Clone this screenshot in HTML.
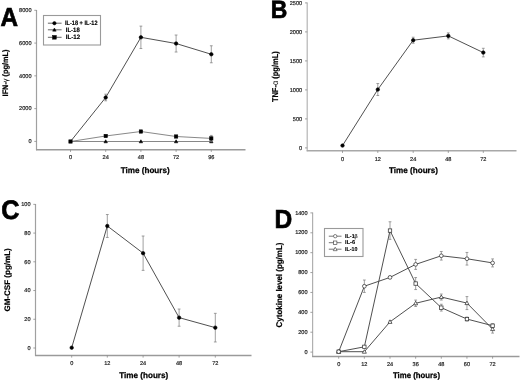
<!DOCTYPE html><html><head><meta charset="utf-8"><style>html,body{margin:0;padding:0;background:#fff;width:520px;height:381px;overflow:hidden}svg{display:block;will-change:transform;filter:blur(0.3px)}</style></head><body>
<svg width="520" height="381" viewBox="0 0 520 381" text-rendering="geometricPrecision" font-family='"Liberation Sans", sans-serif'>
<rect width="520" height="381" fill="#fff"/>
<text transform="translate(0.55,26.05) scale(0.927,1)" x="0" y="0" font-size="26.2" font-weight="bold" fill="#000" stroke="#000" stroke-width="0.7">A</text>
<line x1="36.50" y1="10.00" x2="36.50" y2="150.20" stroke="#a0a0a0" stroke-width="1.2"/>
<line x1="36.00" y1="149.70" x2="245.50" y2="149.70" stroke="#9a9a9a" stroke-width="1.5"/>
<line x1="34.30" y1="141.40" x2="36.50" y2="141.40" stroke="#8a8a8a" stroke-width="0.8"/>
<text x="31.50" y="143.10" font-size="5.6" font-weight="normal" text-anchor="end" fill="#222" stroke="#222" stroke-width="0.18">0</text>
<line x1="34.30" y1="108.62" x2="36.50" y2="108.62" stroke="#8a8a8a" stroke-width="0.8"/>
<text x="31.50" y="110.33" font-size="5.6" font-weight="normal" text-anchor="end" fill="#222" stroke="#222" stroke-width="0.18">2000</text>
<line x1="34.30" y1="75.85" x2="36.50" y2="75.85" stroke="#8a8a8a" stroke-width="0.8"/>
<text x="31.50" y="77.55" font-size="5.6" font-weight="normal" text-anchor="end" fill="#222" stroke="#222" stroke-width="0.18">4000</text>
<line x1="34.30" y1="43.08" x2="36.50" y2="43.08" stroke="#8a8a8a" stroke-width="0.8"/>
<text x="31.50" y="44.78" font-size="5.6" font-weight="normal" text-anchor="end" fill="#222" stroke="#222" stroke-width="0.18">6000</text>
<line x1="34.30" y1="10.30" x2="36.50" y2="10.30" stroke="#8a8a8a" stroke-width="0.8"/>
<text x="31.50" y="12.00" font-size="5.6" font-weight="normal" text-anchor="end" fill="#222" stroke="#222" stroke-width="0.18">8000</text>
<line x1="70.50" y1="149.70" x2="70.50" y2="151.90" stroke="#8a8a8a" stroke-width="0.8"/>
<text x="70.50" y="159.10" font-size="5.6" font-weight="normal" text-anchor="middle" fill="#222" stroke="#222" stroke-width="0.18">0</text>
<line x1="105.70" y1="149.70" x2="105.70" y2="151.90" stroke="#8a8a8a" stroke-width="0.8"/>
<text x="105.70" y="159.10" font-size="5.6" font-weight="normal" text-anchor="middle" fill="#222" stroke="#222" stroke-width="0.18">24</text>
<line x1="140.90" y1="149.70" x2="140.90" y2="151.90" stroke="#8a8a8a" stroke-width="0.8"/>
<text x="140.90" y="159.10" font-size="5.6" font-weight="normal" text-anchor="middle" fill="#222" stroke="#222" stroke-width="0.18">48</text>
<line x1="176.10" y1="149.70" x2="176.10" y2="151.90" stroke="#8a8a8a" stroke-width="0.8"/>
<text x="176.10" y="159.10" font-size="5.6" font-weight="normal" text-anchor="middle" fill="#222" stroke="#222" stroke-width="0.18">72</text>
<line x1="211.30" y1="149.70" x2="211.30" y2="151.90" stroke="#8a8a8a" stroke-width="0.8"/>
<text x="211.30" y="159.10" font-size="5.6" font-weight="normal" text-anchor="middle" fill="#222" stroke="#222" stroke-width="0.18">96</text>
<line x1="105.70" y1="94.20" x2="105.70" y2="100.80" stroke="#808080" stroke-width="0.75"/>
<line x1="104.30" y1="94.20" x2="107.10" y2="94.20" stroke="#808080" stroke-width="0.75"/>
<line x1="104.30" y1="100.80" x2="107.10" y2="100.80" stroke="#808080" stroke-width="0.75"/>
<line x1="140.90" y1="26.12" x2="140.90" y2="48.52" stroke="#808080" stroke-width="0.75"/>
<line x1="139.50" y1="26.12" x2="142.30" y2="26.12" stroke="#808080" stroke-width="0.75"/>
<line x1="139.50" y1="48.52" x2="142.30" y2="48.52" stroke="#808080" stroke-width="0.75"/>
<line x1="176.10" y1="35.02" x2="176.10" y2="52.02" stroke="#808080" stroke-width="0.75"/>
<line x1="174.70" y1="35.02" x2="177.50" y2="35.02" stroke="#808080" stroke-width="0.75"/>
<line x1="174.70" y1="52.02" x2="177.50" y2="52.02" stroke="#808080" stroke-width="0.75"/>
<line x1="211.30" y1="45.77" x2="211.30" y2="62.77" stroke="#808080" stroke-width="0.75"/>
<line x1="209.90" y1="45.77" x2="212.70" y2="45.77" stroke="#808080" stroke-width="0.75"/>
<line x1="209.90" y1="62.77" x2="212.70" y2="62.77" stroke="#808080" stroke-width="0.75"/>
<polyline points="70.50,141.50 105.70,97.50 140.90,37.32 176.10,43.52 211.30,54.27" fill="none" stroke="#474747" stroke-width="0.95"/>
<circle cx="105.70" cy="97.50" r="1.75" fill="#000" stroke="#000" stroke-width="0.6"/>
<circle cx="140.90" cy="37.32" r="1.75" fill="#000" stroke="#000" stroke-width="0.6"/>
<circle cx="176.10" cy="43.52" r="1.75" fill="#000" stroke="#000" stroke-width="0.6"/>
<circle cx="211.30" cy="54.27" r="1.75" fill="#000" stroke="#000" stroke-width="0.6"/>
<polyline points="70.50,141.50 105.70,141.50 140.90,141.50 176.10,141.50 211.30,141.50" fill="none" stroke="#6a6a6a" stroke-width="0.8"/>
<polygon points="105.70,139.78 107.42,142.79 103.98,142.79" fill="#000" stroke="#000" stroke-width="0.6"/>
<polygon points="140.90,139.78 142.62,142.79 139.18,142.79" fill="#000" stroke="#000" stroke-width="0.6"/>
<polygon points="176.10,139.78 177.83,142.79 174.38,142.79" fill="#000" stroke="#000" stroke-width="0.6"/>
<polygon points="211.30,139.78 213.03,142.79 209.58,142.79" fill="#000" stroke="#000" stroke-width="0.6"/>
<line x1="211.30" y1="135.41" x2="211.30" y2="141.41" stroke="#808080" stroke-width="0.75"/>
<line x1="209.90" y1="135.41" x2="212.70" y2="135.41" stroke="#808080" stroke-width="0.75"/>
<line x1="209.90" y1="141.41" x2="212.70" y2="141.41" stroke="#808080" stroke-width="0.75"/>
<polyline points="70.50,141.50 105.70,135.99 140.90,131.51 176.10,136.50 211.30,138.41" fill="none" stroke="#6a6a6a" stroke-width="0.8"/>
<rect x="68.85" y="139.85" width="3.3" height="3.3" fill="#000" stroke="#000" stroke-width="0.6"/>
<rect x="104.05" y="134.34" width="3.3" height="3.3" fill="#000" stroke="#000" stroke-width="0.6"/>
<rect x="139.25" y="129.86" width="3.3" height="3.3" fill="#000" stroke="#000" stroke-width="0.6"/>
<rect x="174.45" y="134.85" width="3.3" height="3.3" fill="#000" stroke="#000" stroke-width="0.6"/>
<rect x="209.65" y="136.76" width="3.3" height="3.3" fill="#000" stroke="#000" stroke-width="0.6"/>
<text x="145.20" y="172.80" font-size="8.2" font-weight="bold" text-anchor="middle" fill="#000" textLength="49" lengthAdjust="spacingAndGlyphs" stroke="#000" stroke-width="0.25">Time (hours)</text>
<text transform="translate(7.60,96.40) rotate(-90)" x="0" y="0" font-size="8.0" font-weight="bold" fill="#000" stroke="#000" stroke-width="0.2" textLength="46.8" lengthAdjust="spacingAndGlyphs">IFN-<tspan font-weight="normal" stroke-width="0">γ</tspan> (pg/mL)</text>
<rect x="43.5" y="15.5" width="57" height="29.5" fill="#fff" stroke="#9a9a9a" stroke-width="1.1"/>
<line x1="47.90" y1="23.20" x2="61.60" y2="23.20" stroke="#555" stroke-width="0.9"/>
<circle cx="54.40" cy="23.20" r="1.7" fill="#000" stroke="#000" stroke-width="0.5"/>
<text x="65.00" y="24.75" font-size="6.3" font-weight="bold" text-anchor="start" fill="#000" textLength="32.5" lengthAdjust="spacingAndGlyphs" stroke="#000" stroke-width="0.15">IL-18 + IL-12</text>
<line x1="47.90" y1="29.80" x2="61.60" y2="29.80" stroke="#555" stroke-width="0.9"/>
<polygon points="54.40,28.02 56.18,31.14 52.62,31.14" fill="#000" stroke="#000" stroke-width="0.5"/>
<text x="65.80" y="31.60" font-size="6.3" font-weight="bold" text-anchor="start" fill="#000" textLength="13.9" lengthAdjust="spacingAndGlyphs" stroke="#000" stroke-width="0.15">IL-18</text>
<line x1="47.90" y1="37.30" x2="61.60" y2="37.30" stroke="#555" stroke-width="0.9"/>
<rect x="52.55" y="35.45" width="3.7" height="3.7" fill="#000" stroke="#000" stroke-width="0.5"/>
<text x="65.80" y="38.50" font-size="6.3" font-weight="bold" text-anchor="start" fill="#000" textLength="14.3" lengthAdjust="spacingAndGlyphs" stroke="#000" stroke-width="0.15">IL-12</text>
<text transform="translate(270.71,18.35) scale(0.918,1)" x="0" y="0" font-size="25" font-weight="bold" fill="#000" stroke="#000" stroke-width="0.7">B</text>
<line x1="307.20" y1="2.60" x2="307.20" y2="151.20" stroke="#b4b4b4" stroke-width="1.2"/>
<line x1="306.70" y1="150.70" x2="516.50" y2="150.70" stroke="#a8a8a8" stroke-width="1.5"/>
<line x1="305.00" y1="147.90" x2="307.20" y2="147.90" stroke="#8a8a8a" stroke-width="0.8"/>
<text x="302.20" y="149.60" font-size="5.6" font-weight="normal" text-anchor="end" fill="#222" stroke="#222" stroke-width="0.18">0</text>
<line x1="305.00" y1="118.90" x2="307.20" y2="118.90" stroke="#8a8a8a" stroke-width="0.8"/>
<text x="302.20" y="120.60" font-size="5.6" font-weight="normal" text-anchor="end" fill="#222" stroke="#222" stroke-width="0.18">500</text>
<line x1="305.00" y1="89.90" x2="307.20" y2="89.90" stroke="#8a8a8a" stroke-width="0.8"/>
<text x="302.20" y="91.60" font-size="5.6" font-weight="normal" text-anchor="end" fill="#222" stroke="#222" stroke-width="0.18">1000</text>
<line x1="305.00" y1="60.90" x2="307.20" y2="60.90" stroke="#8a8a8a" stroke-width="0.8"/>
<text x="302.20" y="62.60" font-size="5.6" font-weight="normal" text-anchor="end" fill="#222" stroke="#222" stroke-width="0.18">1500</text>
<line x1="305.00" y1="31.90" x2="307.20" y2="31.90" stroke="#8a8a8a" stroke-width="0.8"/>
<text x="302.20" y="33.60" font-size="5.6" font-weight="normal" text-anchor="end" fill="#222" stroke="#222" stroke-width="0.18">2000</text>
<line x1="305.00" y1="2.90" x2="307.20" y2="2.90" stroke="#8a8a8a" stroke-width="0.8"/>
<text x="302.20" y="4.60" font-size="5.6" font-weight="normal" text-anchor="end" fill="#222" stroke="#222" stroke-width="0.18">2500</text>
<line x1="342.50" y1="150.70" x2="342.50" y2="152.90" stroke="#8a8a8a" stroke-width="0.8"/>
<text x="342.50" y="161.20" font-size="5.6" font-weight="normal" text-anchor="middle" fill="#222" stroke="#222" stroke-width="0.18">0</text>
<line x1="377.80" y1="150.70" x2="377.80" y2="152.90" stroke="#8a8a8a" stroke-width="0.8"/>
<text x="377.80" y="161.20" font-size="5.6" font-weight="normal" text-anchor="middle" fill="#222" stroke="#222" stroke-width="0.18">12</text>
<line x1="413.20" y1="150.70" x2="413.20" y2="152.90" stroke="#8a8a8a" stroke-width="0.8"/>
<text x="413.20" y="161.20" font-size="5.6" font-weight="normal" text-anchor="middle" fill="#222" stroke="#222" stroke-width="0.18">24</text>
<line x1="448.30" y1="150.70" x2="448.30" y2="152.90" stroke="#8a8a8a" stroke-width="0.8"/>
<text x="448.30" y="161.20" font-size="5.6" font-weight="normal" text-anchor="middle" fill="#222" stroke="#222" stroke-width="0.18">48</text>
<line x1="483.30" y1="150.70" x2="483.30" y2="152.90" stroke="#8a8a8a" stroke-width="0.8"/>
<text x="483.30" y="161.20" font-size="5.6" font-weight="normal" text-anchor="middle" fill="#222" stroke="#222" stroke-width="0.18">72</text>
<line x1="377.80" y1="83.53" x2="377.80" y2="95.53" stroke="#808080" stroke-width="0.75"/>
<line x1="376.40" y1="83.53" x2="379.20" y2="83.53" stroke="#808080" stroke-width="0.75"/>
<line x1="376.40" y1="95.53" x2="379.20" y2="95.53" stroke="#808080" stroke-width="0.75"/>
<line x1="413.20" y1="37.22" x2="413.20" y2="43.22" stroke="#808080" stroke-width="0.75"/>
<line x1="411.80" y1="37.22" x2="414.60" y2="37.22" stroke="#808080" stroke-width="0.75"/>
<line x1="411.80" y1="43.22" x2="414.60" y2="43.22" stroke="#808080" stroke-width="0.75"/>
<line x1="448.30" y1="32.89" x2="448.30" y2="38.89" stroke="#808080" stroke-width="0.75"/>
<line x1="446.90" y1="32.89" x2="449.70" y2="32.89" stroke="#808080" stroke-width="0.75"/>
<line x1="446.90" y1="38.89" x2="449.70" y2="38.89" stroke="#808080" stroke-width="0.75"/>
<line x1="483.30" y1="48.29" x2="483.30" y2="56.89" stroke="#808080" stroke-width="0.75"/>
<line x1="481.90" y1="48.29" x2="484.70" y2="48.29" stroke="#808080" stroke-width="0.75"/>
<line x1="481.90" y1="56.89" x2="484.70" y2="56.89" stroke="#808080" stroke-width="0.75"/>
<polyline points="342.50,145.59 377.80,89.53 413.20,40.22 448.30,35.89 483.30,52.59" fill="none" stroke="#474747" stroke-width="0.95"/>
<circle cx="342.50" cy="145.59" r="1.75" fill="#000" stroke="#000" stroke-width="0.6"/>
<circle cx="377.80" cy="89.53" r="1.75" fill="#000" stroke="#000" stroke-width="0.6"/>
<circle cx="413.20" cy="40.22" r="1.75" fill="#000" stroke="#000" stroke-width="0.6"/>
<circle cx="448.30" cy="35.89" r="1.75" fill="#000" stroke="#000" stroke-width="0.6"/>
<circle cx="483.30" cy="52.59" r="1.75" fill="#000" stroke="#000" stroke-width="0.6"/>
<text x="413.50" y="173.30" font-size="8.2" font-weight="bold" text-anchor="middle" fill="#000" textLength="49" lengthAdjust="spacingAndGlyphs" stroke="#000" stroke-width="0.25">Time (hours)</text>
<text transform="translate(278.10,102.10) rotate(-90)" x="0" y="0" font-size="8.5" font-weight="bold" fill="#000" stroke="#000" stroke-width="0.2" textLength="50.8" lengthAdjust="spacingAndGlyphs">TNF-<tspan font-weight="normal" stroke-width="0">α</tspan> (pg/mL)</text>
<text transform="translate(1.32,219.40) scale(0.94,1)" x="0" y="0" font-size="26.8" font-weight="bold" fill="#000" stroke="#000" stroke-width="0.7">C</text>
<line x1="35.50" y1="204.05" x2="35.50" y2="355.90" stroke="#a0a0a0" stroke-width="1.2"/>
<line x1="35.00" y1="355.40" x2="251.50" y2="355.40" stroke="#9a9a9a" stroke-width="1.5"/>
<line x1="33.30" y1="348.00" x2="35.50" y2="348.00" stroke="#8a8a8a" stroke-width="0.8"/>
<text x="30.50" y="349.70" font-size="5.6" font-weight="normal" text-anchor="end" fill="#222" stroke="#222" stroke-width="0.18">0</text>
<line x1="33.30" y1="319.27" x2="35.50" y2="319.27" stroke="#8a8a8a" stroke-width="0.8"/>
<text x="30.50" y="320.97" font-size="5.6" font-weight="normal" text-anchor="end" fill="#222" stroke="#222" stroke-width="0.18">20</text>
<line x1="33.30" y1="290.54" x2="35.50" y2="290.54" stroke="#8a8a8a" stroke-width="0.8"/>
<text x="30.50" y="292.24" font-size="5.6" font-weight="normal" text-anchor="end" fill="#222" stroke="#222" stroke-width="0.18">40</text>
<line x1="33.30" y1="261.81" x2="35.50" y2="261.81" stroke="#8a8a8a" stroke-width="0.8"/>
<text x="30.50" y="263.51" font-size="5.6" font-weight="normal" text-anchor="end" fill="#222" stroke="#222" stroke-width="0.18">60</text>
<line x1="33.30" y1="233.08" x2="35.50" y2="233.08" stroke="#8a8a8a" stroke-width="0.8"/>
<text x="30.50" y="234.78" font-size="5.6" font-weight="normal" text-anchor="end" fill="#222" stroke="#222" stroke-width="0.18">80</text>
<line x1="33.30" y1="204.35" x2="35.50" y2="204.35" stroke="#8a8a8a" stroke-width="0.8"/>
<text x="30.50" y="206.05" font-size="5.6" font-weight="normal" text-anchor="end" fill="#222" stroke="#222" stroke-width="0.18">100</text>
<line x1="71.70" y1="355.40" x2="71.70" y2="357.60" stroke="#8a8a8a" stroke-width="0.8"/>
<text x="71.70" y="364.80" font-size="5.6" font-weight="normal" text-anchor="middle" fill="#222" stroke="#222" stroke-width="0.18">0</text>
<line x1="107.30" y1="355.40" x2="107.30" y2="357.60" stroke="#8a8a8a" stroke-width="0.8"/>
<text x="107.30" y="364.80" font-size="5.6" font-weight="normal" text-anchor="middle" fill="#222" stroke="#222" stroke-width="0.18">12</text>
<line x1="143.10" y1="355.40" x2="143.10" y2="357.60" stroke="#8a8a8a" stroke-width="0.8"/>
<text x="143.10" y="364.80" font-size="5.6" font-weight="normal" text-anchor="middle" fill="#222" stroke="#222" stroke-width="0.18">24</text>
<line x1="179.10" y1="355.40" x2="179.10" y2="357.60" stroke="#8a8a8a" stroke-width="0.8"/>
<text x="179.10" y="364.80" font-size="5.6" font-weight="normal" text-anchor="middle" fill="#222" stroke="#222" stroke-width="0.18">48</text>
<line x1="215.30" y1="355.40" x2="215.30" y2="357.60" stroke="#8a8a8a" stroke-width="0.8"/>
<text x="215.30" y="364.80" font-size="5.6" font-weight="normal" text-anchor="middle" fill="#222" stroke="#222" stroke-width="0.18">72</text>
<line x1="107.30" y1="214.52" x2="107.30" y2="237.44" stroke="#808080" stroke-width="0.75"/>
<line x1="105.90" y1="214.52" x2="108.70" y2="214.52" stroke="#808080" stroke-width="0.75"/>
<line x1="105.90" y1="237.44" x2="108.70" y2="237.44" stroke="#808080" stroke-width="0.75"/>
<line x1="143.10" y1="236.00" x2="143.10" y2="270.37" stroke="#808080" stroke-width="0.75"/>
<line x1="141.70" y1="236.00" x2="144.50" y2="236.00" stroke="#808080" stroke-width="0.75"/>
<line x1="141.70" y1="270.37" x2="144.50" y2="270.37" stroke="#808080" stroke-width="0.75"/>
<line x1="179.10" y1="309.04" x2="179.10" y2="326.22" stroke="#808080" stroke-width="0.75"/>
<line x1="177.70" y1="309.04" x2="180.50" y2="309.04" stroke="#808080" stroke-width="0.75"/>
<line x1="177.70" y1="326.22" x2="180.50" y2="326.22" stroke="#808080" stroke-width="0.75"/>
<line x1="215.30" y1="313.33" x2="215.30" y2="341.97" stroke="#808080" stroke-width="0.75"/>
<line x1="213.90" y1="313.33" x2="216.70" y2="313.33" stroke="#808080" stroke-width="0.75"/>
<line x1="213.90" y1="341.97" x2="216.70" y2="341.97" stroke="#808080" stroke-width="0.75"/>
<polyline points="71.70,347.70 107.30,225.98 143.10,253.19 179.10,317.63 215.30,327.65" fill="none" stroke="#474747" stroke-width="0.95"/>
<circle cx="71.70" cy="347.70" r="1.75" fill="#000" stroke="#000" stroke-width="0.6"/>
<circle cx="107.30" cy="225.98" r="1.75" fill="#000" stroke="#000" stroke-width="0.6"/>
<circle cx="143.10" cy="253.19" r="1.75" fill="#000" stroke="#000" stroke-width="0.6"/>
<circle cx="179.10" cy="317.63" r="1.75" fill="#000" stroke="#000" stroke-width="0.6"/>
<circle cx="215.30" cy="327.65" r="1.75" fill="#000" stroke="#000" stroke-width="0.6"/>
<text x="143.75" y="378.00" font-size="8.2" font-weight="bold" text-anchor="middle" fill="#000" textLength="49" lengthAdjust="spacingAndGlyphs" stroke="#000" stroke-width="0.25">Time (hours)</text>
<text transform="translate(9.50,311.60) rotate(-90)" x="0" y="0" font-size="8.0" font-weight="bold" fill="#000" stroke="#000" stroke-width="0.2" textLength="63.4" lengthAdjust="spacingAndGlyphs">GM-CSF (pg/mL)</text>
<text transform="translate(274.51,228.25) scale(0.94,1)" x="0" y="0" font-size="26.1" font-weight="bold" fill="#000" stroke="#000" stroke-width="0.7">D</text>
<line x1="312.60" y1="212.60" x2="312.60" y2="357.00" stroke="#b0b0b0" stroke-width="1.2"/>
<line x1="312.10" y1="356.50" x2="519.50" y2="356.50" stroke="#9a9a9a" stroke-width="1.5"/>
<line x1="310.40" y1="352.10" x2="312.60" y2="352.10" stroke="#8a8a8a" stroke-width="0.8"/>
<text x="307.60" y="353.80" font-size="5.6" font-weight="normal" text-anchor="end" fill="#222" stroke="#222" stroke-width="0.18">0</text>
<line x1="310.40" y1="332.21" x2="312.60" y2="332.21" stroke="#8a8a8a" stroke-width="0.8"/>
<text x="307.60" y="333.91" font-size="5.6" font-weight="normal" text-anchor="end" fill="#222" stroke="#222" stroke-width="0.18">200</text>
<line x1="310.40" y1="312.33" x2="312.60" y2="312.33" stroke="#8a8a8a" stroke-width="0.8"/>
<text x="307.60" y="314.03" font-size="5.6" font-weight="normal" text-anchor="end" fill="#222" stroke="#222" stroke-width="0.18">400</text>
<line x1="310.40" y1="292.44" x2="312.60" y2="292.44" stroke="#8a8a8a" stroke-width="0.8"/>
<text x="307.60" y="294.14" font-size="5.6" font-weight="normal" text-anchor="end" fill="#222" stroke="#222" stroke-width="0.18">600</text>
<line x1="310.40" y1="272.56" x2="312.60" y2="272.56" stroke="#8a8a8a" stroke-width="0.8"/>
<text x="307.60" y="274.26" font-size="5.6" font-weight="normal" text-anchor="end" fill="#222" stroke="#222" stroke-width="0.18">800</text>
<line x1="310.40" y1="252.67" x2="312.60" y2="252.67" stroke="#8a8a8a" stroke-width="0.8"/>
<text x="307.60" y="254.37" font-size="5.6" font-weight="normal" text-anchor="end" fill="#222" stroke="#222" stroke-width="0.18">1000</text>
<line x1="310.40" y1="232.79" x2="312.60" y2="232.79" stroke="#8a8a8a" stroke-width="0.8"/>
<text x="307.60" y="234.49" font-size="5.6" font-weight="normal" text-anchor="end" fill="#222" stroke="#222" stroke-width="0.18">1200</text>
<line x1="310.40" y1="212.90" x2="312.60" y2="212.90" stroke="#8a8a8a" stroke-width="0.8"/>
<text x="307.60" y="214.60" font-size="5.6" font-weight="normal" text-anchor="end" fill="#222" stroke="#222" stroke-width="0.18">1400</text>
<line x1="338.70" y1="356.50" x2="338.70" y2="358.70" stroke="#8a8a8a" stroke-width="0.8"/>
<text x="338.70" y="365.90" font-size="5.6" font-weight="normal" text-anchor="middle" fill="#222" stroke="#222" stroke-width="0.18">0</text>
<line x1="364.35" y1="356.50" x2="364.35" y2="358.70" stroke="#8a8a8a" stroke-width="0.8"/>
<text x="364.35" y="365.90" font-size="5.6" font-weight="normal" text-anchor="middle" fill="#222" stroke="#222" stroke-width="0.18">12</text>
<line x1="390.00" y1="356.50" x2="390.00" y2="358.70" stroke="#8a8a8a" stroke-width="0.8"/>
<text x="390.00" y="365.90" font-size="5.6" font-weight="normal" text-anchor="middle" fill="#222" stroke="#222" stroke-width="0.18">24</text>
<line x1="415.65" y1="356.50" x2="415.65" y2="358.70" stroke="#8a8a8a" stroke-width="0.8"/>
<text x="415.65" y="365.90" font-size="5.6" font-weight="normal" text-anchor="middle" fill="#222" stroke="#222" stroke-width="0.18">36</text>
<line x1="441.30" y1="356.50" x2="441.30" y2="358.70" stroke="#8a8a8a" stroke-width="0.8"/>
<text x="441.30" y="365.90" font-size="5.6" font-weight="normal" text-anchor="middle" fill="#222" stroke="#222" stroke-width="0.18">48</text>
<line x1="466.95" y1="356.50" x2="466.95" y2="358.70" stroke="#8a8a8a" stroke-width="0.8"/>
<text x="466.95" y="365.90" font-size="5.6" font-weight="normal" text-anchor="middle" fill="#222" stroke="#222" stroke-width="0.18">60</text>
<line x1="492.60" y1="356.50" x2="492.60" y2="358.70" stroke="#8a8a8a" stroke-width="0.8"/>
<text x="492.60" y="365.90" font-size="5.6" font-weight="normal" text-anchor="middle" fill="#222" stroke="#222" stroke-width="0.18">72</text>
<line x1="390.00" y1="320.84" x2="390.00" y2="322.84" stroke="#808080" stroke-width="0.75"/>
<line x1="388.60" y1="320.84" x2="391.40" y2="320.84" stroke="#808080" stroke-width="0.75"/>
<line x1="388.60" y1="322.84" x2="391.40" y2="322.84" stroke="#808080" stroke-width="0.75"/>
<line x1="415.65" y1="300.09" x2="415.65" y2="306.49" stroke="#808080" stroke-width="0.75"/>
<line x1="414.25" y1="300.09" x2="417.05" y2="300.09" stroke="#808080" stroke-width="0.75"/>
<line x1="414.25" y1="306.49" x2="417.05" y2="306.49" stroke="#808080" stroke-width="0.75"/>
<line x1="441.30" y1="294.04" x2="441.30" y2="300.04" stroke="#808080" stroke-width="0.75"/>
<line x1="439.90" y1="294.04" x2="442.70" y2="294.04" stroke="#808080" stroke-width="0.75"/>
<line x1="439.90" y1="300.04" x2="442.70" y2="300.04" stroke="#808080" stroke-width="0.75"/>
<line x1="466.95" y1="296.59" x2="466.95" y2="309.59" stroke="#808080" stroke-width="0.75"/>
<line x1="465.55" y1="296.59" x2="468.35" y2="296.59" stroke="#808080" stroke-width="0.75"/>
<line x1="465.55" y1="309.59" x2="468.35" y2="309.59" stroke="#808080" stroke-width="0.75"/>
<line x1="492.60" y1="325.08" x2="492.60" y2="333.08" stroke="#808080" stroke-width="0.75"/>
<line x1="491.20" y1="325.08" x2="494.00" y2="325.08" stroke="#808080" stroke-width="0.75"/>
<line x1="491.20" y1="333.08" x2="494.00" y2="333.08" stroke="#808080" stroke-width="0.75"/>
<polyline points="338.70,351.70 364.35,351.70 390.00,321.84 415.65,303.29 441.30,297.04 466.95,303.09 492.60,329.08" fill="none" stroke="#474747" stroke-width="0.95"/>
<polygon points="338.70,349.69 340.71,353.21 336.69,353.21" fill="#fff" stroke="#333" stroke-width="0.75"/>
<polygon points="364.35,349.69 366.36,353.21 362.34,353.21" fill="#fff" stroke="#333" stroke-width="0.75"/>
<polygon points="390.00,319.83 392.01,323.35 387.99,323.35" fill="#fff" stroke="#333" stroke-width="0.75"/>
<polygon points="415.65,301.28 417.66,304.80 413.64,304.80" fill="#fff" stroke="#333" stroke-width="0.75"/>
<polygon points="441.30,295.03 443.31,298.55 439.29,298.55" fill="#fff" stroke="#333" stroke-width="0.75"/>
<polygon points="466.95,301.08 468.96,304.60 464.94,304.60" fill="#fff" stroke="#333" stroke-width="0.75"/>
<polygon points="492.60,327.07 494.61,330.59 490.59,330.59" fill="#fff" stroke="#333" stroke-width="0.75"/>
<line x1="390.00" y1="221.78" x2="390.00" y2="239.38" stroke="#808080" stroke-width="0.75"/>
<line x1="388.60" y1="221.78" x2="391.40" y2="221.78" stroke="#808080" stroke-width="0.75"/>
<line x1="388.60" y1="239.38" x2="391.40" y2="239.38" stroke="#808080" stroke-width="0.75"/>
<line x1="415.65" y1="277.55" x2="415.65" y2="289.55" stroke="#808080" stroke-width="0.75"/>
<line x1="414.25" y1="277.55" x2="417.05" y2="277.55" stroke="#808080" stroke-width="0.75"/>
<line x1="414.25" y1="289.55" x2="417.05" y2="289.55" stroke="#808080" stroke-width="0.75"/>
<line x1="441.30" y1="304.26" x2="441.30" y2="311.06" stroke="#808080" stroke-width="0.75"/>
<line x1="439.90" y1="304.26" x2="442.70" y2="304.26" stroke="#808080" stroke-width="0.75"/>
<line x1="439.90" y1="311.06" x2="442.70" y2="311.06" stroke="#808080" stroke-width="0.75"/>
<line x1="466.95" y1="317.06" x2="466.95" y2="321.06" stroke="#808080" stroke-width="0.75"/>
<line x1="465.55" y1="317.06" x2="468.35" y2="317.06" stroke="#808080" stroke-width="0.75"/>
<line x1="465.55" y1="321.06" x2="468.35" y2="321.06" stroke="#808080" stroke-width="0.75"/>
<line x1="492.60" y1="323.71" x2="492.60" y2="327.71" stroke="#808080" stroke-width="0.75"/>
<line x1="491.20" y1="323.71" x2="494.00" y2="323.71" stroke="#808080" stroke-width="0.75"/>
<line x1="491.20" y1="327.71" x2="494.00" y2="327.71" stroke="#808080" stroke-width="0.75"/>
<polyline points="338.70,351.70 364.35,346.84 390.00,230.58 415.65,283.55 441.30,307.66 466.95,319.06 492.60,325.71" fill="none" stroke="#474747" stroke-width="0.95"/>
<rect x="337.00" y="350.00" width="3.4" height="3.4" fill="#fff" stroke="#333" stroke-width="0.75"/>
<rect x="362.65" y="345.14" width="3.4" height="3.4" fill="#fff" stroke="#333" stroke-width="0.75"/>
<rect x="388.30" y="228.88" width="3.4" height="3.4" fill="#fff" stroke="#333" stroke-width="0.75"/>
<rect x="413.95" y="281.85" width="3.4" height="3.4" fill="#fff" stroke="#333" stroke-width="0.75"/>
<rect x="439.60" y="305.96" width="3.4" height="3.4" fill="#fff" stroke="#333" stroke-width="0.75"/>
<rect x="465.25" y="317.36" width="3.4" height="3.4" fill="#fff" stroke="#333" stroke-width="0.75"/>
<rect x="490.90" y="324.01" width="3.4" height="3.4" fill="#fff" stroke="#333" stroke-width="0.75"/>
<line x1="364.35" y1="280.03" x2="364.35" y2="292.43" stroke="#808080" stroke-width="0.75"/>
<line x1="362.95" y1="280.03" x2="365.75" y2="280.03" stroke="#808080" stroke-width="0.75"/>
<line x1="362.95" y1="292.43" x2="365.75" y2="292.43" stroke="#808080" stroke-width="0.75"/>
<line x1="390.00" y1="276.20" x2="390.00" y2="278.60" stroke="#808080" stroke-width="0.75"/>
<line x1="388.60" y1="276.20" x2="391.40" y2="276.20" stroke="#808080" stroke-width="0.75"/>
<line x1="388.60" y1="278.60" x2="391.40" y2="278.60" stroke="#808080" stroke-width="0.75"/>
<line x1="415.65" y1="259.40" x2="415.65" y2="269.40" stroke="#808080" stroke-width="0.75"/>
<line x1="414.25" y1="259.40" x2="417.05" y2="259.40" stroke="#808080" stroke-width="0.75"/>
<line x1="414.25" y1="269.40" x2="417.05" y2="269.40" stroke="#808080" stroke-width="0.75"/>
<line x1="441.30" y1="251.47" x2="441.30" y2="260.07" stroke="#808080" stroke-width="0.75"/>
<line x1="439.90" y1="251.47" x2="442.70" y2="251.47" stroke="#808080" stroke-width="0.75"/>
<line x1="439.90" y1="260.07" x2="442.70" y2="260.07" stroke="#808080" stroke-width="0.75"/>
<line x1="466.95" y1="252.45" x2="466.95" y2="265.05" stroke="#808080" stroke-width="0.75"/>
<line x1="465.55" y1="252.45" x2="468.35" y2="252.45" stroke="#808080" stroke-width="0.75"/>
<line x1="465.55" y1="265.05" x2="468.35" y2="265.05" stroke="#808080" stroke-width="0.75"/>
<line x1="492.60" y1="258.92" x2="492.60" y2="266.92" stroke="#808080" stroke-width="0.75"/>
<line x1="491.20" y1="258.92" x2="494.00" y2="258.92" stroke="#808080" stroke-width="0.75"/>
<line x1="491.20" y1="266.92" x2="494.00" y2="266.92" stroke="#808080" stroke-width="0.75"/>
<polyline points="338.70,351.70 364.35,286.23 390.00,277.40 415.65,264.40 441.30,255.77 466.95,258.75 492.60,262.92" fill="none" stroke="#474747" stroke-width="0.95"/>
<circle cx="338.70" cy="351.70" r="1.85" fill="#fff" stroke="#333" stroke-width="0.75"/>
<circle cx="364.35" cy="286.23" r="1.85" fill="#fff" stroke="#333" stroke-width="0.75"/>
<circle cx="390.00" cy="277.40" r="1.85" fill="#fff" stroke="#333" stroke-width="0.75"/>
<circle cx="415.65" cy="264.40" r="1.85" fill="#fff" stroke="#333" stroke-width="0.75"/>
<circle cx="441.30" cy="255.77" r="1.85" fill="#fff" stroke="#333" stroke-width="0.75"/>
<circle cx="466.95" cy="258.75" r="1.85" fill="#fff" stroke="#333" stroke-width="0.75"/>
<circle cx="492.60" cy="262.92" r="1.85" fill="#fff" stroke="#333" stroke-width="0.75"/>
<text x="416.50" y="378.00" font-size="8.2" font-weight="bold" text-anchor="middle" fill="#000" textLength="47" lengthAdjust="spacingAndGlyphs" stroke="#000" stroke-width="0.25">Time (hours)</text>
<text transform="translate(281.60,327.40) rotate(-90)" x="0" y="0" font-size="8.3" font-weight="bold" fill="#000" stroke="#000" stroke-width="0.2" textLength="84.8" lengthAdjust="spacingAndGlyphs">Cytokine level (pg/mL)</text>
<rect x="324.5" y="228.5" width="38.5" height="28" fill="#fff" stroke="#9a9a9a" stroke-width="1.1"/>
<line x1="328.80" y1="236.20" x2="341.50" y2="236.20" stroke="#666" stroke-width="0.9"/>
<circle cx="335.20" cy="236.20" r="1.7" fill="#fff" stroke="#333" stroke-width="0.6"/>
<text x="345.10" y="238.10" font-size="5.6" font-weight="bold" text-anchor="start" fill="#000" textLength="12.6" lengthAdjust="spacingAndGlyphs" stroke="#000" stroke-width="0.12">IL-1<tspan font-weight="normal">β</tspan></text>
<line x1="328.80" y1="242.70" x2="341.50" y2="242.70" stroke="#666" stroke-width="0.9"/>
<rect x="333.50" y="241.00" width="3.4" height="3.4" fill="#fff" stroke="#333" stroke-width="0.6"/>
<text x="345.10" y="244.30" font-size="5.6" font-weight="bold" text-anchor="start" fill="#000" textLength="10.0" lengthAdjust="spacingAndGlyphs" stroke="#000" stroke-width="0.12">IL-6</text>
<line x1="328.80" y1="249.20" x2="341.50" y2="249.20" stroke="#666" stroke-width="0.9"/>
<polygon points="335.20,247.24 337.15,250.67 333.25,250.67" fill="#fff" stroke="#333" stroke-width="0.6"/>
<text x="345.10" y="250.80" font-size="5.6" font-weight="bold" text-anchor="start" fill="#000" textLength="12.4" lengthAdjust="spacingAndGlyphs" stroke="#000" stroke-width="0.12">IL-10</text>
</svg></body></html>
